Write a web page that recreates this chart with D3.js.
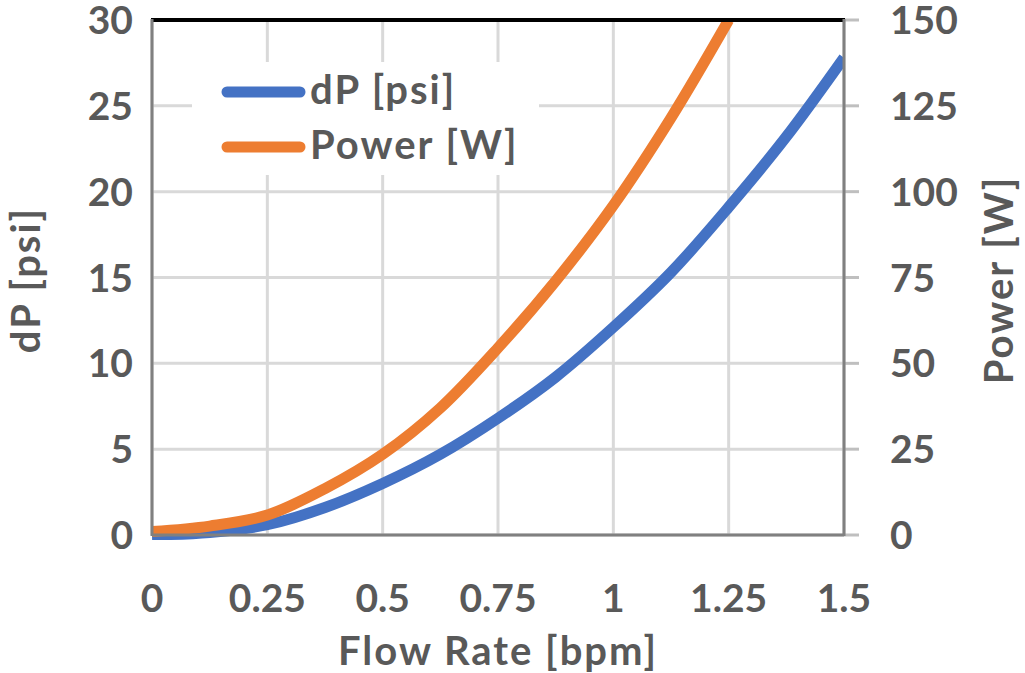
<!DOCTYPE html>
<html>
<head>
<meta charset="utf-8">
<script src="https://cdn.jsdelivr.net/npm/d3@7"></script>
<style>
body { margin: 0; background: #fff; }
text { font-family: Lato, "Open Sans", sans-serif; font-weight: bold; fill: #595959; }
.title { letter-spacing: 2px; }
</style>
</head>
<body>
<script>
"use strict";
// values
const flow = [0, 0.125, 0.25, 0.375, 0.5, 0.625, 0.75, 0.875, 1.0, 1.125, 1.25, 1.375, 1.5];
const dpPsi = [0, 0.15, 0.6, 1.6, 3.0, 4.7, 6.8, 9.2, 12.1, 15.3, 19.1, 23.2, 27.8];
const powerW = [1, 2.6, 5.8, 13.5, 23.5, 37, 54.5, 74, 96, 121.5, 150, null, null];
const xTicks = [0, 0.25, 0.5, 0.75, 1, 1.25, 1.5];
const dpTicks = [0, 5, 10, 15, 20, 25, 30];
const powerTicks = [0, 25, 50, 75, 100, 125, 150];
const seriesNames = ["dP [psi]", "Power [W]"];
const colors = ["#4472c4", "#ed7d31"];

const W = 1025, H = 673;
const m = {left: 152, right: 844, top: 20, bottom: 535};
const svg = d3.select("body").append("svg").attr("width", W).attr("height", H);

const x = d3.scaleLinear().domain([0, 1.5]).range([m.left, m.right]);
const yL = d3.scaleLinear().domain([0, 30]).range([m.bottom, m.top]);
const yR = d3.scaleLinear().domain([0, 150]).range([m.bottom, m.top]);

// gridlines
svg.append("g").selectAll("line").data(dpTicks).enter().append("line")
	.attr("x1", m.left).attr("x2", m.right)
	.attr("y1", d => yL(d)).attr("y2", d => yL(d))
	.attr("stroke", "#d9d9d9").attr("stroke-width", 3);
svg.append("g").selectAll("line").data(xTicks).enter().append("line")
	.attr("x1", d => x(d)).attr("x2", d => x(d))
	.attr("y1", m.top).attr("y2", m.bottom)
	.attr("stroke", "#d9d9d9").attr("stroke-width", 3);

// right-side tick marks
svg.append("g").selectAll("line").data(powerTicks).enter().append("line")
	.attr("x1", m.right).attr("x2", m.right + 15)
	.attr("y1", d => yR(d)).attr("y2", d => yR(d))
	.attr("stroke", "#bfbfbf").attr("stroke-width", 3);

// legend box (covers the grid)
svg.append("rect").attr("x", 192).attr("y", 62).attr("width", 347).attr("height", 113).attr("fill", "#fff");

svg.append("clipPath").attr("id", "plot").append("rect")
	.attr("x", m.left).attr("y", m.top - 1).attr("width", m.right - m.left).attr("height", m.bottom - m.top + 6);

const lineL = d3.line().x((d, i) => x(flow[i])).y(d => yL(d)).curve(d3.curveCatmullRom);
const lineR = d3.line().defined(d => d !== null).x((d, i) => x(flow[i])).y(d => yR(d)).curve(d3.curveCatmullRom);

const plot = svg.append("g").attr("clip-path", "url(#plot)");
plot.append("path").attr("d", lineL(dpPsi)).attr("fill", "none").attr("stroke", colors[0]).attr("stroke-width", 11);
plot.append("path").attr("d", lineR(powerW)).attr("fill", "none").attr("stroke", colors[1]).attr("stroke-width", 11);

// frame
svg.append("line").attr("x1", m.left - 1).attr("x2", m.right + 1).attr("y1", m.top).attr("y2", m.top).attr("stroke", "#000").attr("stroke-width", 4);
svg.append("line").attr("x1", m.left).attr("x2", m.left).attr("y1", m.top - 1).attr("y2", m.bottom + 1).attr("stroke", "#808080").attr("stroke-width", 3);
svg.append("line").attr("x1", m.right).attr("x2", m.right).attr("y1", m.top - 1).attr("y2", m.bottom + 1).attr("stroke", "#808080").attr("stroke-width", 3);
svg.append("line").attr("x1", m.left).attr("x2", m.right).attr("y1", m.bottom).attr("y2", m.bottom).attr("stroke", "#808080").attr("stroke-width", 3);

// tick labels
const fmt = d => String(d);
svg.append("g").selectAll("text").data(dpTicks).enter().append("text")
	.attr("x", 133).attr("y", d => yL(d) + 14)
	.attr("text-anchor", "end").attr("font-size", 39).text(fmt);
svg.append("g").selectAll("text").data(powerTicks).enter().append("text")
	.attr("x", 890).attr("y", d => yR(d) + 14)
	.attr("text-anchor", "start").attr("font-size", 39).text(fmt);
svg.append("g").selectAll("text").data(xTicks).enter().append("text")
	.attr("x", d => x(d)).attr("y", 612)
	.attr("text-anchor", "middle").attr("font-size", 39).text(fmt);

// axis titles
svg.append("text").attr("class", "title").attr("x", 498).attr("y", 665).attr("text-anchor", "middle").attr("font-size", 40).text("Flow Rate [bpm]");
svg.append("text").attr("class", "title").attr("transform", "translate(40,280) rotate(-90)").attr("text-anchor", "middle").attr("font-size", 40).text("dP [psi]");
svg.append("text").attr("class", "title").attr("transform", "translate(1013,280) rotate(-90)").attr("text-anchor", "middle").attr("font-size", 40).text("Power [W]");

// legend
const leg = svg.append("g").selectAll("g").data(seriesNames).enter().append("g")
	.attr("transform", (d, i) => "translate(0," + (92 + i * 55) + ")");
leg.append("line").attr("x1", 227).attr("x2", 300).attr("y1", 0).attr("y2", 0)
	.attr("stroke", (d, i) => colors[i]).attr("stroke-width", 11).attr("stroke-linecap", "round");
leg.append("text").attr("class", "title").attr("x", 310).attr("y", 12).attr("font-size", 40).text(d => d);
</script>
</body>
</html>
